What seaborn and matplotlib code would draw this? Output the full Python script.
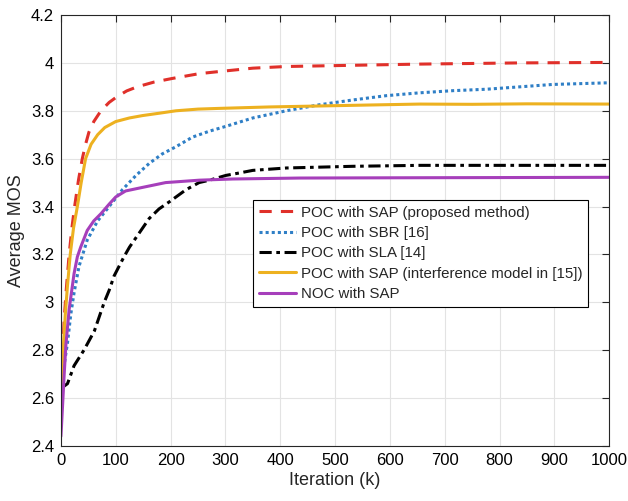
import numpy as np
import pandas as pd
import matplotlib
matplotlib.use("Agg")
import matplotlib.pyplot as plt
import seaborn as sns

# Average MOS versus iteration for each scheme
x_red = [0, 3, 6, 10, 15, 20, 25, 32, 39, 45, 51, 60, 73, 88, 103, 120, 139, 170, 203, 252, 289, 350, 411, 532, 654, 837, 1000]
y_red = [2.60, 2.78, 2.93, 3.06, 3.20, 3.31, 3.40, 3.51, 3.60, 3.66, 3.71, 3.755, 3.80, 3.835, 3.86, 3.883, 3.90, 3.92, 3.935, 3.955, 3.964, 3.978, 3.985, 3.99, 3.995, 4.0, 4.002]

x_blue = [1, 6, 12, 18, 24, 33, 48, 67, 88, 112, 137, 161, 185, 210, 240, 271, 301, 350, 411, 471, 532, 593, 654, 715, 776, 837, 897, 1000]
y_blue = [2.65, 2.74, 2.83, 2.95, 3.04, 3.15, 3.26, 3.34, 3.40, 3.47, 3.53, 3.58, 3.62, 3.65, 3.69, 3.715, 3.735, 3.77, 3.80, 3.825, 3.845, 3.863, 3.875, 3.884, 3.89, 3.90, 3.91, 3.917]

x_black = [0, 12, 24, 42, 61, 70, 79, 88, 97, 106, 115, 125, 140, 152, 161, 179, 198, 228, 252, 271, 301, 325, 350, 411, 532, 654, 800, 1000]
y_black = [2.64, 2.66, 2.735, 2.80, 2.88, 2.94, 3.00, 3.05, 3.11, 3.15, 3.19, 3.23, 3.28, 3.32, 3.35, 3.39, 3.42, 3.47, 3.50, 3.51, 3.53, 3.54, 3.551, 3.561, 3.568, 3.572, 3.572, 3.572]

x_orange = [0, 4, 8, 12, 17, 23, 30, 37, 45, 55, 67, 80, 100, 125, 149, 180, 210, 250, 289, 380, 471, 560, 654, 750, 850, 1000]
y_orange = [2.63, 2.80, 2.95, 3.07, 3.20, 3.31, 3.40, 3.50, 3.60, 3.66, 3.70, 3.73, 3.755, 3.77, 3.78, 3.79, 3.80, 3.807, 3.81, 3.816, 3.82, 3.824, 3.828, 3.827, 3.829, 3.828]

x_purple = [0, 1, 6, 9, 15, 24, 30, 36, 48, 60, 73, 88, 100, 118, 149, 191, 252, 313, 435, 600, 800, 1000]
y_purple = [2.44, 2.48, 2.70, 2.82, 2.97, 3.12, 3.19, 3.23, 3.30, 3.34, 3.37, 3.41, 3.44, 3.465, 3.48, 3.50, 3.51, 3.515, 3.519, 3.52, 3.521, 3.522]

labels = [
    "POC with SAP (proposed method)",
    "POC with SBR [16]",
    "POC with SLA [14]",
    "POC with SAP (interference model in [15])",
    "NOC with SAP",
]
series_x = [x_red, x_blue, x_black, x_orange, x_purple]
series_y = [y_red, y_blue, y_black, y_orange, y_purple]

colors = ["#e0302a", "#2f7fc6", "#000000", "#edb120", "#a63fbb"]
dash_styles = [(4, 3), (1, 1), (4, 1.5, 1.2, 1.5), "", ""]

sns.set_style("white")
plt.rcParams["font.family"] = ["Liberation Sans", "DejaVu Sans"]

fig = plt.figure(figsize=(6.28, 5.01), dpi=100)
ax = fig.add_axes([0.097, 0.110, 0.873, 0.860])

for xs, ys, lab, col, ds in zip(series_x, series_y, labels, colors, dash_styles):
    df = pd.DataFrame({"k": xs, "mos": ys})
    sns.lineplot(data=df, x="k", y="mos", ax=ax, color=col, lw=2.2,
                 label=lab, legend=False, sort=False)
    ln = ax.lines[-1]
    if ds != "":
        ln.set_dashes(ds)

ax.set_xlim(0, 1000)
ax.set_ylim(2.4, 4.2)
ax.set_xticks(np.arange(0, 1001, 100))
ax.set_yticks(np.arange(2.4, 4.21, 0.2))
ax.set_yticklabels(["2.4", "2.6", "2.8", "3", "3.2", "3.4", "3.6", "3.8", "4", "4.2"])
ax.grid(True, color="#e3e3e3", lw=0.8)
ax.set_axisbelow(True)
for sp in ax.spines.values():
    sp.set_visible(True)
    sp.set_color("#262626")
    sp.set_linewidth(0.8)
ax.tick_params(direction="in", length=5, width=0.8, top=True, right=True,
               labelsize=12, colors="#262626", labelcolor="black", pad=5)
ax.set_xlabel("Iteration (k)", fontsize=13, labelpad=3)
ax.set_ylabel("Average MOS", fontsize=13, labelpad=4)

leg = ax.legend(loc="lower left", bbox_to_anchor=(0.350, 0.3225), borderaxespad=0,
                fontsize=10.8, frameon=True, fancybox=False, edgecolor="black",
                framealpha=1, handlelength=2.5, handletextpad=0.3,
                labelspacing=0.42, borderpad=0.4)
leg.get_frame().set_linewidth(0.8)

fig.savefig("out.png", dpi=100)
